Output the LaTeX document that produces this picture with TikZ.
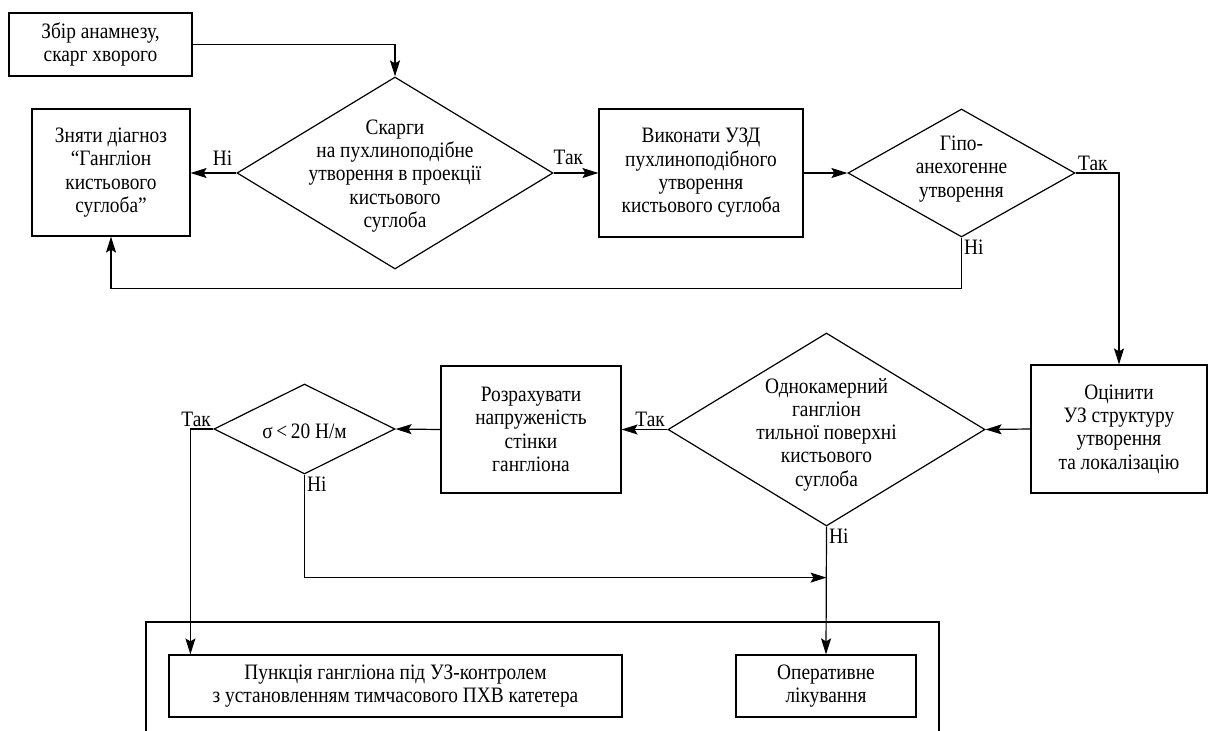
\documentclass[tikz,border=0pt]{standalone}
\usepackage{fontspec}
\setmainfont{Liberation Serif}[FakeStretch=0.88]
\usetikzlibrary{shapes.geometric,arrows.meta}
\tikzstyle{arrow} = [->,>={Stealth[length=16pt,width=10pt,inset=3pt]}]
\tikzstyle{block} = [draw,rectangle,align=center,inner sep=0pt]
\tikzstyle{decision} = [draw,diamond,inner sep=0pt]
\tikzstyle{dtext} = [align=center,inner sep=0pt]

\begin{document}
\begin{tikzpicture}[x=1pt,y=-1pt,line width=1.2pt]
        \fontsize{22}{23.3}\selectfont
        \useasboundingbox (0,0) rectangle (1208,731);

        % top row
        \node[block, minimum width=183pt, minimum height=63pt] at (100.5,44.5) (b1) {Збір анамнезу,\\скарг хворого};
        \node[block, minimum width=158pt, minimum height=127pt] at (111,172.5) (b2) {Зняти діагноз\\“Гангліон\\кистьового\\суглоба”};
        \node[decision, minimum width=316pt, minimum height=192pt] at (395,173) (d1) {};
        \node[dtext] at ([yshift=-3pt]d1.center) (q1) {Скарги\\на пухлиноподібне\\утворення в проекції\\кистьового\\суглоба};
        \node[block, minimum width=204pt, minimum height=128pt] at (701,173) (b3) {Виконати УЗД\\пухлиноподібного\\утворення\\кистьового суглоба};
        \node[decision, minimum width=227pt, minimum height=128pt] at (961.5,173) (d2) {};
        \node[dtext] at ([yshift=4pt]d2.center) (q2) {Гіпо-\\анехогенне\\утворення};

        % middle row
        \node[block, minimum width=176pt, minimum height=128pt] at (1119,429) (b4) {Оцінити\\УЗ структуру\\утворення\\та локалізацію};
        \node[decision, minimum width=317pt, minimum height=193pt] at (826.5,429.5) (d3) {};
        \node[dtext] at ([yshift=-5pt]d3.center) (q3) {Однокамерний\\гангліон\\тильної поверхні\\кистьового\\суглоба};
        \node[block, minimum width=180pt, minimum height=127pt] at (531,429.5) (b5) {Розрахувати\\напруженість\\стінки\\гангліона};
        \node[decision, minimum width=181pt, minimum height=90pt] at (304.5,429) (d4) {};
        \node[dtext] at ([yshift=-2pt]d4.center) (q4) {σ\,<\,20~Н/м};

        % bottom row
        \node[block, minimum width=453pt, minimum height=62pt] at (395.5,686) (b6) {Пункція гангліона під УЗ-контролем\\з установленням тимчасового ПХВ катетера};
        \node[block, minimum width=180pt, minimum height=62pt] at (826,686) (b7) {Оперативне\\лікування};
        \draw (146,731) -- (146,622) -- (939,622) -- (939,731);

        \coordinate (join) at ([yshift=-51pt]d3.south);

        \draw[arrow] (b1.east) -| (d1.north);
        \draw[arrow] (d1.west) -- (d1.west -| b2.east) node[pos=0.3, above] (n1) {Ні};
        \draw[arrow] (d1.east) -- (d1.east -| b3.west) node[pos=0.33, above] (y1) {Так};
        \draw[arrow] (b3.east) -- (d2.west);
        \draw[arrow] (d2.south) -- ++(0,51) -| (b2.south);
        \node[below right, inner sep=2pt] at (d2.south) (n2) {Ні};
        \draw[arrow] (d2.east) -| (b4.north);
        \node[above right, inner sep=2pt] at (d2.east) (y2) {Так};
        \draw[arrow] (b4.west) -- (d3.east);
        \draw[arrow] (d3.west) -- (d3.west -| b5.east);
        \node[above left, inner sep=2pt] at (d3.west) (y3) {Так};
        \draw[arrow] (b5.west) -- (d4.east);
        \draw[arrow] (d4.west) -| ([xshift=22pt]b6.north west);
        \node[above left, inner sep=2pt] at (d4.west) (y4) {Так};
        \draw[arrow] (d4.south) |- (join);
        \node[below right, inner sep=2pt] at (d4.south) (n4) {Ні};
        \draw[arrow] (d3.south) -- (b7.north);
        \node[below right, inner sep=2pt] at (d3.south) (n3) {Ні};

    \end{tikzpicture}
\end{document}
